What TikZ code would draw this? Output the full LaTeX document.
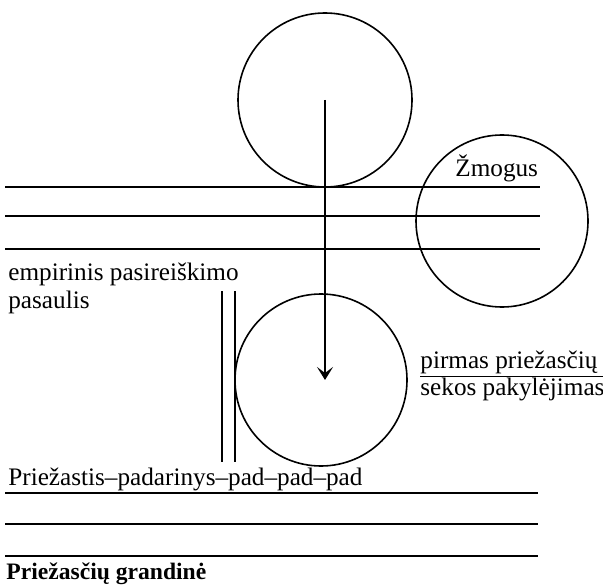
\documentclass[tikz,border=0pt]{standalone}
\usepackage{fontspec}
\setmainfont{Liberation Serif}
\usetikzlibrary{arrows.meta}

\begin{document}
\begin{tikzpicture}[x=0.5pt,y=-0.5pt,
    ratas/.style={draw, circle, line width=0.8pt, inner sep=0pt},
    linija/.style={line width=0.9pt},
    tekstas/.style={anchor=base west, inner sep=0pt, font=\fontsize{12.6}{13.5}\selectfont}]
\useasboundingbox (0,0) rectangle (603,587);

% Apskritimai
\node[ratas, minimum size=87pt] (virsus) at (325,100) {};
\node[ratas, minimum size=86pt] (zmogus) at (502,221) {};
\node[ratas, minimum size=86pt] (apacia) at (321,380) {};

% Viršutinės linijos
\foreach \y in {187,216,249}{
    \draw[linija] (5,\y) -- (540,\y);
}

% Apatinės linijos
\foreach \y in {493,524,556}{
    \draw[linija, line width=1pt] (5,\y) -- (538,\y);
}

% Dvigubas brūkšnys
\draw[linija] (222,291) -- (222,462);
\draw[linija] (235,291) -- (235,462);

% Rodyklė
\draw[linija, -{Stealth[length=6.5pt,width=8pt,inset=3pt]}] (virsus.center) -- (virsus.center |- apacia.center);

% Užrašai
\node[tekstas] (zmog) at (455,177) {Žmogus};
\node[tekstas] (emp1) at (8,280) {empirinis pasireiškimo};
\node[tekstas] (emp2) at (8,308) {pasaulis};
\node[tekstas] (pirm) at (420,368) {\begin{tabular}[t]{@{}l@{}}pirmas priežasčių\\\hline sekos pakylėjimas\end{tabular}};
\node[tekstas] (prie) at (8,485) {Priežastis–padarinys–pad–pad–pad};
\node[tekstas, font=\fontsize{11.8}{13.5}\selectfont\bfseries] (gran) at (6,579) {Priežasčių grandinė};

\end{tikzpicture}
\end{document}
